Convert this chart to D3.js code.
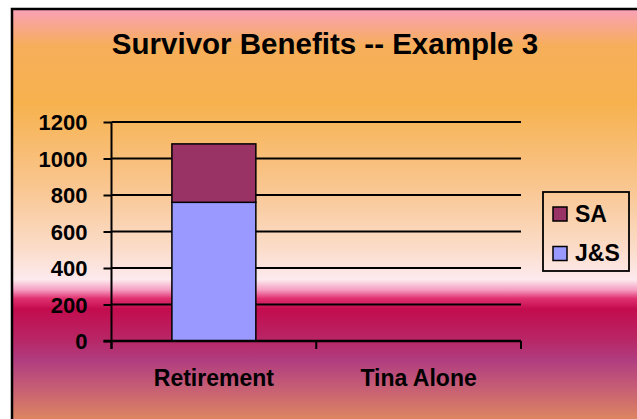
<!DOCTYPE html>
<html>
<head>
<meta charset="utf-8">
<script src="https://cdn.jsdelivr.net/npm/d3@7"></script>
<style>
  body { margin: 0; padding: 0; background: #fff; }
  svg text { font-family: "Liberation Sans", Arial, sans-serif; font-weight: bold; fill: #000; }
</style>
</head>
<body>
<div class="chart"></div>
<script>
// chart data
var categories = ["Retirement", "Tina Alone"];
var seriesNames = ["J&S", "SA"];
var jsValues = [760, 0];
var saValues = [320, 0];
var yTicks = [0, 200, 400, 600, 800, 1000, 1200];
var seriesColors = {"J&S": "#9999FF", "SA": "#993366"};

var svgWidth = 637;
var svgHeight = 419;
var margin = {top: 122, right: 116, bottom: 78, left: 111.5};
var chartWidth = svgWidth - margin.left - margin.right;
var chartHeight = svgHeight - margin.top - margin.bottom;

var svg = d3.select(".chart")
  .append("svg")
  .attr("width", svgWidth)
  .attr("height", svgHeight);

// background gradient
var grad = svg.append("defs").append("linearGradient")
  .attr("id", "bg")
  .attr("x1", 0).attr("y1", 0).attr("x2", 0).attr("y2", 1);
var stops = [
  [10, "#F9A0B8"], [45, "#F7AE5A"], [100, "#F7B24E"], [180, "#F9C690"],
  [240, "#FBDDCB"], [268, "#FDEAEE"], [278, "#F59BC0"], [286, "#E0306F"],
  [296, "#C30C4E"], [325, "#B82666"], [345, "#B03D80"], [370, "#C55C75"],
  [400, "#DC8462"], [419, "#EFA055"]
];
stops.forEach(function(s) {
  grad.append("stop")
    .attr("offset", ((s[0] - 10) / (svgHeight - 10)))
    .attr("stop-color", s[1]);
});

svg.append("rect")
  .attr("x", 12).attr("y", 9)
  .attr("width", svgWidth + 10).attr("height", svgHeight + 10)
  .attr("fill", "url(#bg)")
  .attr("stroke", "#000")
  .attr("stroke-width", 2.5);

// title
svg.append("text")
  .attr("x", 325)
  .attr("y", 54)
  .attr("text-anchor", "middle")
  .style("font-size", "29.5px")
  .text("Survivor Benefits -- Example 3");

var chart = svg.append("g")
  .attr("transform", `translate(${margin.left},${margin.top})`);

var xScale = d3.scaleBand().domain(categories).range([0, chartWidth]);
var yScale = d3.scaleLinear().domain([0, 1200]).range([chartHeight, 0]);

// gridlines
chart.append("g")
  .selectAll("line")
  .data(yTicks.filter(function(d) { return d > 0; }))
  .enter()
  .append("line")
  .attr("x1", 0)
  .attr("x2", chartWidth)
  .attr("y1", function(d) { return yScale(d); })
  .attr("y2", function(d) { return yScale(d); })
  .attr("stroke", "#000")
  .attr("stroke-width", 2);

// stacked bars
var table = categories.map(function(c, i) {
  return {category: c, "J&S": jsValues[i], "SA": saValues[i]};
});
var stacked = d3.stack().keys(seriesNames)(table);
var barWidth = xScale.bandwidth() * 0.41;

chart.selectAll("g.series")
  .data(stacked)
  .enter()
  .append("g")
  .attr("class", "series")
  .attr("fill", function(d) { return seriesColors[d.key]; })
  .selectAll("rect")
  .data(function(d) { return d.filter(function(p) { return p[1] > p[0]; }); })
  .enter()
  .append("rect")
  .attr("x", function(d) { return xScale(d.data.category) + (xScale.bandwidth() - barWidth) / 2; })
  .attr("y", function(d) { return yScale(d[1]); })
  .attr("width", barWidth)
  .attr("height", function(d) { return yScale(d[0]) - yScale(d[1]); })
  .attr("stroke", "#000")
  .attr("stroke-width", 1.5);

// y axis
var leftAxis = d3.axisLeft(yScale).tickValues(yTicks).tickFormat(d3.format("d"))
  .tickSize(8).tickPadding(16);
var yAxis = chart.append("g").call(leftAxis);
yAxis.select(".domain").remove();
yAxis.selectAll(".tick line").attr("stroke", "#000").attr("stroke-width", 2);
yAxis.selectAll(".tick text").style("font-size", "22px").attr("dy", "0.36em");
chart.append("line")
  .attr("x1", 0).attr("x2", 0)
  .attr("y1", 0).attr("y2", chartHeight + 8)
  .attr("stroke", "#000").attr("stroke-width", 2);

// x axis
var xAxis = chart.append("g").attr("transform", `translate(0,${chartHeight})`);
xAxis.append("line")
  .attr("x1", -8).attr("x2", chartWidth)
  .attr("stroke", "#000").attr("stroke-width", 2.5);
xAxis.selectAll("line.tick")
  .data(categories.concat([null]))
  .enter()
  .append("line")
  .attr("class", "tick")
  .attr("x1", function(d, i) { return i * xScale.bandwidth(); })
  .attr("x2", function(d, i) { return i * xScale.bandwidth(); })
  .attr("y1", 0).attr("y2", 8)
  .attr("stroke", "#000").attr("stroke-width", 2);
xAxis.selectAll("text")
  .data(categories)
  .enter()
  .append("text")
  .attr("x", function(d) { return xScale(d) + xScale.bandwidth() / 2; })
  .attr("y", 45)
  .attr("text-anchor", "middle")
  .style("font-size", "23px")
  .text(function(d) { return d; });

// legend
var legend = svg.append("g").attr("transform", "translate(543,192)");
legend.append("rect")
  .attr("width", 86).attr("height", 79)
  .attr("fill", "none")
  .attr("stroke", "#000").attr("stroke-width", 1.8);
var legendItems = legend.selectAll("g.item")
  .data(seriesNames.slice().reverse())
  .enter()
  .append("g")
  .attr("class", "item")
  .attr("transform", function(d, i) { return `translate(10,${15 + i * 39.5})`; });
legendItems.append("rect")
  .attr("width", 14).attr("height", 14)
  .attr("fill", function(d) { return seriesColors[d]; })
  .attr("stroke", "#000").attr("stroke-width", 1.5);
legendItems.append("text")
  .attr("x", 22)
  .attr("y", 14.5)
  .style("font-size", "23px")
  .text(function(d) { return d; });
</script>
</body>
</html>
